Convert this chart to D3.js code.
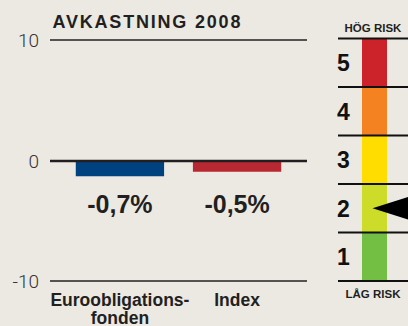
<!DOCTYPE html>
<html>
<head>
<meta charset="utf-8">
<script src="https://cdn.jsdelivr.net/npm/d3@7"></script>
<style>
  html, body { margin: 0; padding: 0; background: #ece9e3; }
  svg { display: block; }
</style>
</head>
<body>
<svg id="chart" width="408" height="326"></svg>
<script>
// Return 2008 for the fund and its index
const categories = ["Euroobligationsfonden", "Index"];
const categoryLines = [["Euroobligations-", "fonden"], ["Index"]];
const values = [-0.7, -0.5];
const valueLabels = ["-0,7%", "-0,5%"];
const barColors = ["#00427f", "#b82832"];
const yTicks = [10, 0, -10];
const yTickLabels = ["10", "0", "-10"];

// Risk scale 1 (low) to 5 (high)
const riskLevels = [5, 4, 3, 2, 1];
const riskColors = ["#cc2229", "#f58220", "#ffdd00", "#cddc29", "#72bf44"];
const fundRisk = 2;
const riskTop = "HÖG RISK";
const riskBottom = "LÅG RISK";

const ink = "#231f20";
const boldFont = "'Liberation Sans', Arial, sans-serif";
const svg = d3.select("#chart");

// ---- return chart ----
const y = d3.scaleLinear().domain([-10, 10]).range([281, 40]);
const x = d3.scaleBand().domain(categories).range([50, 307])
  .paddingInner(0.246).paddingOuter(0.22);
// bar depth below the zero line, pixels per percentage point
const depth = d3.scaleLinear().domain([0, 1]).range([0, 22.5]);

svg.append("text")
  .attr("x", 52.5).attr("y", 27.5)
  .attr("font-family", boldFont).attr("font-weight", 700)
  .attr("font-size", 18).attr("letter-spacing", 1.8)
  .attr("fill", ink)
  .text("AVKASTNING 2008");

const yAxis = d3.axisLeft(y).tickValues(yTicks)
  .tickFormat((d, i) => yTickLabels[i]).tickSize(0).tickPadding(11);
const gy = svg.append("g").attr("transform", "translate(50,0)").call(yAxis);
gy.select(".domain").remove();
gy.selectAll("text")
  .attr("font-family", "Roboto, 'Liberation Sans', sans-serif")
  .attr("font-weight", 300).attr("font-size", 19).attr("fill", "#333")
  .attr("dy", "0.36em");

// horizontal reference lines at +10 and -10
svg.selectAll("line.grid").data([10, -10]).join("line")
  .attr("class", "grid")
  .attr("x1", 50).attr("x2", 307)
  .attr("y1", d => y(d)).attr("y2", d => y(d))
  .attr("stroke", ink).attr("stroke-width", 1.3);

svg.selectAll("rect.bar").data(values).join("rect")
  .attr("class", "bar")
  .attr("x", (d, i) => x(categories[i]))
  .attr("width", x.bandwidth())
  .attr("y", y(0))
  .attr("height", d => depth(Math.abs(d)))
  .attr("fill", (d, i) => barColors[i]);

// zero line over the bars
svg.append("line")
  .attr("x1", 50).attr("x2", 307)
  .attr("y1", y(0) + 0.5).attr("y2", y(0) + 0.5)
  .attr("stroke", ink).attr("stroke-width", 2.4);

svg.selectAll("text.value").data(valueLabels).join("text")
  .attr("class", "value")
  .attr("x", (d, i) => x(categories[i]) + x.bandwidth() / 2)
  .attr("y", 213)
  .attr("text-anchor", "middle")
  .attr("font-family", boldFont).attr("font-weight", 700)
  .attr("font-size", 25).attr("fill", ink)
  .text(d => d);

const cat = svg.selectAll("text.cat").data(categoryLines).join("text")
  .attr("class", "cat")
  .attr("text-anchor", "middle")
  .attr("font-family", boldFont).attr("font-weight", 700)
  .attr("font-size", 17.5).attr("fill", ink);
cat.each(function (lines, i) {
  const cx = x(categories[i]) + x.bandwidth() / 2;
  d3.select(this).selectAll("tspan").data(lines).join("tspan")
    .attr("x", cx)
    .attr("y", (d, j) => 305.5 + j * 18)
    .text(d => d);
});

// ---- risk gauge ----
const r = d3.scaleBand().domain(riskLevels).range([38.5, 281]);
const gauge = svg.append("g");

gauge.selectAll("rect").data(riskLevels).join("rect")
  .attr("x", 362).attr("width", 25)
  .attr("y", d => r(d)).attr("height", r.bandwidth())
  .attr("fill", (d, i) => riskColors[i]);

const edges = riskLevels.map(d => r(d)).concat([r(1) + r.bandwidth()]);
gauge.selectAll("line").data(edges).join("line")
  .attr("x1", 338).attr("x2", 408)
  .attr("y1", d => d).attr("y2", d => d)
  .attr("stroke", "#111").attr("stroke-width", 2);

gauge.selectAll("text.lvl").data(riskLevels).join("text")
  .attr("class", "lvl")
  .attr("x", 337)
  .attr("y", d => r(d) + r.bandwidth() / 2 + 8.5)
  .attr("font-family", boldFont).attr("font-weight", 700)
  .attr("font-size", 23).attr("fill", "#111")
  .text(d => d);

const smallFont = "'Liberation Sans Narrow', 'Arial Narrow', 'Liberation Sans', sans-serif";
gauge.append("text")
  .attr("x", 373).attr("y", 31.5).attr("text-anchor", "middle")
  .attr("font-family", smallFont).attr("font-weight", 700)
  .attr("font-size", 11.5).attr("fill", ink)
  .text(riskTop);
gauge.append("text")
  .attr("x", 373).attr("y", 297.5).attr("text-anchor", "middle")
  .attr("font-family", smallFont).attr("font-weight", 700)
  .attr("font-size", 11.5).attr("fill", ink)
  .text(riskBottom);

// pointer at the fund's risk level
const py = r(fundRisk) + r.bandwidth() / 2;
gauge.append("path")
  .attr("d", d3.line()([[372.5, py], [412, py - 12.5], [412, py + 12.5]]) + "Z")
  .attr("fill", "#000");
</script>
</body>
</html>
